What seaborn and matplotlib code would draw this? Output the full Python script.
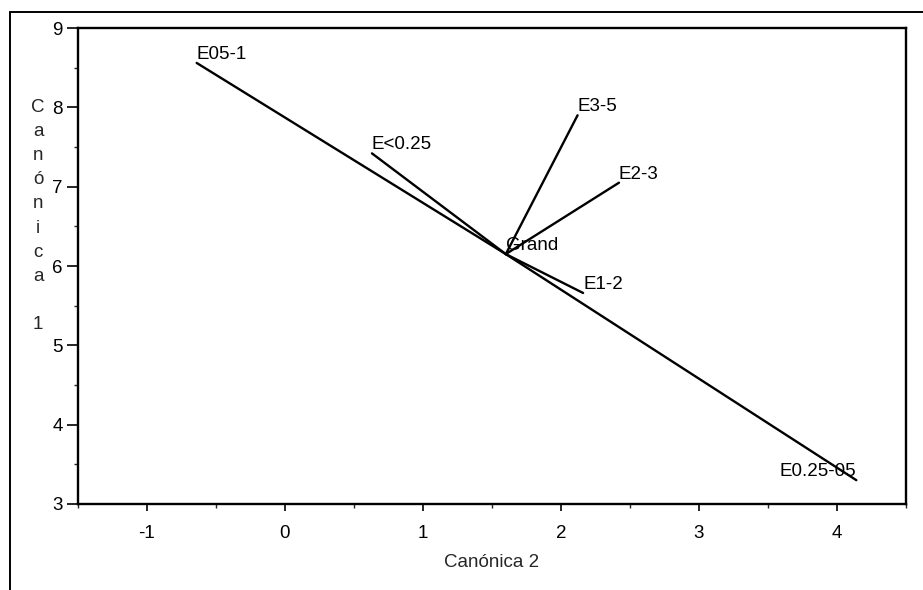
import matplotlib
matplotlib.use("Agg")
import matplotlib.pyplot as plt
import seaborn as sns
import pandas as pd
from matplotlib.lines import Line2D
from matplotlib.ticker import MultipleLocator

# centroide global y extremos de cada grupo (Canónica 2, Canónica 1)
grand_x = 1.6
grand_y = 6.15
grupos = ["E05-1", "E<0.25", "E3-5", "E2-3", "E1-2", "E0.25-05"]
can2 = [-0.64, 0.63, 2.12, 2.42, 2.16, 4.14]
can1 = [8.56, 7.42, 7.90, 7.05, 5.66, 3.30]

rows = []
for g, x, y in zip(grupos, can2, can1):
    rows.append({"grupo": g, "x": grand_x, "y": grand_y})
    rows.append({"grupo": g, "x": x, "y": y})
df = pd.DataFrame(rows)

sns.set_style("ticks")
plt.rcParams["font.family"] = ["Liberation Sans", "DejaVu Sans"]
plt.rcParams["axes.unicode_minus"] = False

fs = 13.5
fig = plt.figure(figsize=(9.23, 5.90), dpi=100)
ax = fig.add_axes([0.0845, 0.1458, 0.8971, 0.8067])

sns.lineplot(data=df, x="x", y="y", units="grupo", estimator=None, sort=False,
             color="black", linewidth=1.7, ax=ax, legend=False)

for g, x, y in zip(grupos, can2, can1):
    ha = "right" if g == "E0.25-05" else "left"
    ax.text(x, y, g, ha=ha, va="bottom", fontsize=fs, color="black")
ax.text(grand_x, grand_y, "Grand", ha="left", va="bottom", fontsize=fs, color="black")

ax.set_xlim(-1.5, 4.5)
ax.set_ylim(3, 9)
ax.set_xticks([-1, 0, 1, 2, 3, 4])
ax.set_yticks([3, 4, 5, 6, 7, 8, 9])
ax.xaxis.set_minor_locator(MultipleLocator(0.5))
ax.yaxis.set_minor_locator(MultipleLocator(0.5))
ax.tick_params(axis="y", which="major", direction="out", length=8, width=1.2,
               labelsize=fs, pad=3, colors="black")
ax.tick_params(axis="x", which="major", direction="out", length=5, width=1.2,
               labelsize=fs, pad=10, colors="black")
ax.tick_params(which="minor", direction="out", length=3, width=1.0)
for s in ax.spines.values():
    s.set_visible(True)
    s.set_linewidth(1.7)
    s.set_color("black")

ax.set_xlabel("Canónica 2", fontsize=fs, labelpad=9)
ax.set_ylabel("")
fig.text(38 / 923, 1 - 216 / 590, "\n".join(list("Canónica") + ["", "1"]),
         ha="center", va="center", fontsize=fs, linespacing=1.54)

# marco exterior del gráfico original
fig.add_artist(Line2D([10 / 923, 10 / 923], [0, 1 - 12 / 590], color="black", lw=1.4,
                      transform=fig.transFigure))
fig.add_artist(Line2D([10 / 923, 1], [1 - 12 / 590, 1 - 12 / 590], color="black", lw=1.4,
                      transform=fig.transFigure))

fig.savefig("out.png", dpi=100)
